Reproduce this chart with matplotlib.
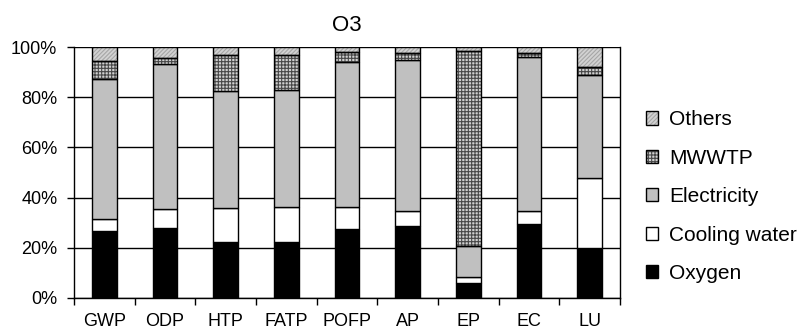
import matplotlib
matplotlib.use("Agg")
import matplotlib.pyplot as plt
from matplotlib.patches import Patch
from matplotlib.legend_handler import HandlerTuple
from matplotlib.ticker import FixedLocator, PercentFormatter
import numpy as np

plt.rcParams['font.family'] = ['Liberation Sans', 'DejaVu Sans']
plt.rcParams['hatch.linewidth'] = 0.8

categories = ["GWP", "ODP", "HTP", "FATP", "POFP", "AP", "EP", "EC", "LU"]
# stacked shares (%)
oxygen        = [26.6, 27.7, 22.4, 22.4, 27.4, 28.8, 6.0, 29.4, 19.7]
cooling_water = [4.8, 7.6, 13.3, 13.9, 8.9, 5.8, 2.4, 5.2, 28.0]
electricity   = [55.8, 57.9, 46.8, 46.7, 57.9, 60.3, 12.2, 61.4, 41.2]
mwwtp         = [7.3, 2.4, 14.4, 13.9, 3.8, 2.7, 78.0, 1.9, 3.1]
others        = [5.5, 4.4, 3.1, 3.1, 2.0, 2.4, 1.4, 2.1, 8.0]

series = [
    ("Oxygen", oxygen, "black", None, None),
    ("Cooling water", cooling_water, "white", None, None),
    ("Electricity", electricity, "#c0c0c0", None, None),
    ("MWWTP", mwwtp, "#d0d0d0", "+++++", "#484848"),
    ("Others", others, "#d2d2d2", "////////", "#a6a6a6"),
]

fig = plt.figure(figsize=(8.03, 3.32), dpi=100)
ax = fig.add_axes([74/803, 1-297.7/332, (620-74)/803, (297.7-47.3)/332])

x = np.arange(len(categories))
width = 0.41
bottom = np.zeros(len(categories))
handles = []
for name, vals, face, hatch, hcol in series:
    vals = np.array(vals)
    if hatch:
        ax.bar(x, vals, width, bottom=bottom, color=face, hatch=hatch,
               edgecolor=hcol, linewidth=0, zorder=3)
        ax.bar(x, vals, width, bottom=bottom, fill=False,
               edgecolor="black", linewidth=1.0, zorder=4)
        h = (Patch(facecolor=face, hatch=hatch, edgecolor=hcol, linewidth=0),
             Patch(fill=False, edgecolor="black", linewidth=1.0))
    else:
        ax.bar(x, vals, width, bottom=bottom, color=face,
               edgecolor="black", linewidth=1.0, zorder=3)
        h = (Patch(facecolor=face, edgecolor="black", linewidth=1.0),)
    handles.append((h, name))
    bottom += vals

ax.set_xlim(-0.5, len(categories) - 0.5)
ax.set_ylim(0, 100)
ax.set_yticks(np.arange(0, 101, 20))
ax.yaxis.set_major_formatter(PercentFormatter(decimals=0))
ax.yaxis.grid(True, color="black", linewidth=1.0, zorder=1)
ax.set_axisbelow(True)

ax.set_xticks(x)
ax.set_xticklabels(categories)
ax.xaxis.set_minor_locator(FixedLocator(np.arange(-0.5, len(categories), 1.0)))
ax.tick_params(axis="x", which="major", length=0, pad=11, labelsize=13)
ax.tick_params(axis="x", which="minor", length=5, width=1.0, color="black")
ax.tick_params(axis="y", which="major", length=5, width=1.0, pad=7, labelsize=13)

for s in ax.spines.values():
    s.set_color("black")
    s.set_linewidth(1.0)
ax.spines["top"].set_visible(False)

ax.set_title("O3", fontsize=16, pad=12)

handles = handles[::-1]
leg = fig.legend([h for h, _ in handles], [n for _, n in handles],
                 handler_map={tuple: HandlerTuple(ndivide=1)},
                 loc="center left", bbox_to_anchor=(646/803, 1-196.7/332),
                 frameon=False, fontsize=15, handlelength=0.6, handleheight=0.6,
                 handletextpad=0.5, labelspacing=0.93, borderpad=0, borderaxespad=0)

fig.savefig("out.png", dpi=100)
